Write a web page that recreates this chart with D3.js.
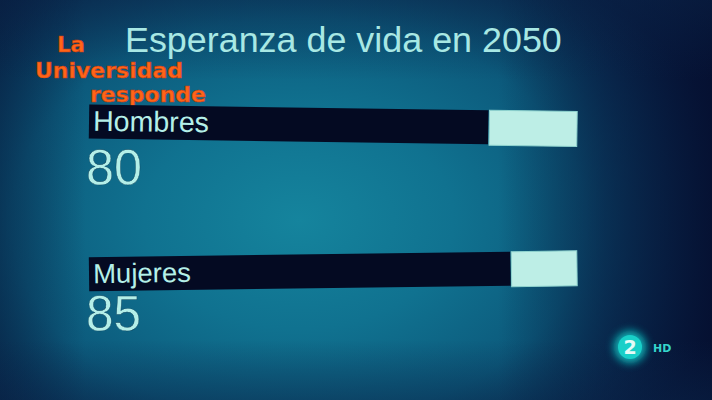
<!DOCTYPE html>
<html>
<head>
<meta charset="utf-8">
<script src="https://cdn.jsdelivr.net/npm/d3@7"></script>
<style>
  html, body { margin: 0; padding: 0; background: #0b2a4a; }
  svg { display: block; }
</style>
</head>
<body>
<svg id="chart" width="712" height="400"></svg>
<script>
// ---- data ----
const categories = ["Hombres", "Mujeres"];
const values = [80, 85];
const valueLabels = ["80", "85"];
const titleText = "Esperanza de vida en 2050";
const logoLines = ["La", "Universidad", "responde"];
const scaleMax = 100;

// ---- drawing ----
const W = 712, H = 400;
const svg = d3.select("#chart");
const defs = svg.append("defs");

// background gradients
const bg = defs.append("radialGradient").attr("id", "bg")
  .attr("cx", "0.42").attr("cy", "0.55").attr("r", "0.62")
  .attr("gradientTransform", "translate(0.42,0.55) scale(1,1.25) translate(-0.42,-0.55)");
[["0", "#15849d"], ["0.35", "#107290"], ["0.65", "#0c5a7c"], ["0.85", "#0a3a5e"], ["1", "#081f42"]]
  .forEach(([o, c]) => bg.append("stop").attr("offset", o).attr("stop-color", c));
svg.append("rect").attr("width", W).attr("height", H).attr("fill", "url(#bg)");

const rightShade = defs.append("linearGradient").attr("id", "rs")
  .attr("x1", "0").attr("x2", "1").attr("y1", "0").attr("y2", "0");
[["0", "#06183a", 0.5], ["0.12", "#06183a", 0.0], ["0.7", "#06183a", 0.0], ["0.85", "#07183d", 0.6], ["1", "#050f30", 0.9]]
  .forEach(([o, c, a]) => rightShade.append("stop").attr("offset", o).attr("stop-color", c).attr("stop-opacity", a));
svg.append("rect").attr("width", W).attr("height", H).attr("fill", "url(#rs)");

const topShade = defs.append("linearGradient").attr("id", "ts")
  .attr("x1", "0").attr("x2", "0").attr("y1", "0").attr("y2", "1");
[["0", "#0a2448", 0.45], ["0.2", "#0a2448", 0.0], ["0.85", "#0a2448", 0.0], ["1", "#0a2448", 0.45]]
  .forEach(([o, c, a]) => topShade.append("stop").attr("offset", o).attr("stop-color", c).attr("stop-opacity", a));
svg.append("rect").attr("width", W).attr("height", H).attr("fill", "url(#ts)");

// glow filter
const glow = defs.append("filter").attr("id", "glow").attr("x", "-50%").attr("y", "-50%").attr("width", "200%").attr("height", "200%");
glow.append("feGaussianBlur").attr("stdDeviation", 4);

const textColor = "#b4efe8";
const fontMain = "'Liberation Sans', Arial, Helvetica, sans-serif";

function fitText(sel, targetWidth) {
  const node = sel.node();
  const fs = parseFloat(sel.attr("font-size"));
  const w = node.getComputedTextLength();
  if (w > 0) sel.attr("font-size", (fs * targetWidth / w).toFixed(2));
  return sel;
}

// title
fitText(svg.append("text")
  .attr("x", 125).attr("y", 52)
  .attr("font-family", fontMain).attr("font-size", 36)
  .attr("fill", "#a8e8e4")
  .text(titleText), 437);

// logo
const logoColor = "#ff6418";
const logoPos = [[57, 52, 28], [35, 78, 148], [90, 101.5, 116]];
logoLines.forEach((t, i) => {
  fitText(svg.append("text")
    .attr("x", logoPos[i][0]).attr("y", logoPos[i][1])
    .attr("font-family", "'DejaVu Sans', Verdana, sans-serif")
    .attr("font-weight", "bold").attr("font-size", 20)
    .attr("fill", logoColor)
    .attr("stroke", "#c23a10").attr("stroke-width", 0.6)
    .text(t), logoPos[i][2]);
});

// scales
const x = d3.scaleLinear().domain([-10, scaleMax]).range([89, 577]);
const y = d3.scalePoint().domain(categories).range([108, 254]);
const barH = 34;
const tilts = [0.8, -0.75];
const labelW = [116, 98];
const valueW = [56, 55];

categories.forEach((cat, i) => {
  const top = y(cat);
  const cx = (x.range()[0] + x.range()[1]) / 2;
  const g = svg.append("g")
    .attr("transform", `rotate(${tilts[i]}, ${cx}, ${top + barH / 2})`);
  g.append("rect")
    .attr("x", x.range()[0]).attr("y", top)
    .attr("width", x(values[i]) - x.range()[0]).attr("height", barH)
    .attr("fill", "#040a22");
  g.append("rect")
    .attr("x", x(values[i]) + 1).attr("y", top)
    .attr("width", x(scaleMax) - x(values[i]) - 1).attr("height", barH + 1)
    .attr("fill", "#bdeee6")
    .attr("stroke", "#8fd3cf").attr("stroke-width", 1);
  fitText(g.append("text")
    .attr("x", x.range()[0] + 4).attr("y", top + 26)
    .attr("font-family", fontMain).attr("font-size", 22)
    .attr("fill", textColor)
    .text(cat), labelW[i]);
  fitText(svg.append("text")
    .attr("x", x.range()[0] - 3).attr("y", top + 77)
    .attr("font-family", fontMain).attr("font-size", 50)
    .attr("fill", textColor)
    .attr("stroke", "#0b3c55").attr("stroke-width", 0.4)
    .text(valueLabels[i]), valueW[i]);
});

// channel bug "2 HD"
svg.append("circle").attr("cx", 630).attr("cy", 347).attr("r", 16)
  .attr("fill", "#10c4c4").attr("filter", "url(#glow)").attr("opacity", 0.9);
svg.append("circle").attr("cx", 630).attr("cy", 347).attr("r", 12)
  .attr("fill", "#19cfc8");
svg.append("text").attr("x", 630).attr("y", 354)
  .attr("text-anchor", "middle")
  .attr("font-family", "'DejaVu Sans', sans-serif").attr("font-weight", "bold").attr("font-size", 19)
  .attr("fill", "#e6fbf7").text("2");
svg.append("text").attr("x", 653).attr("y", 352)
  .attr("font-family", "'DejaVu Sans', sans-serif").attr("font-weight", "bold").attr("font-size", 11)
  .attr("fill", "#35d6cc").text("HD");
</script>
</body>
</html>
